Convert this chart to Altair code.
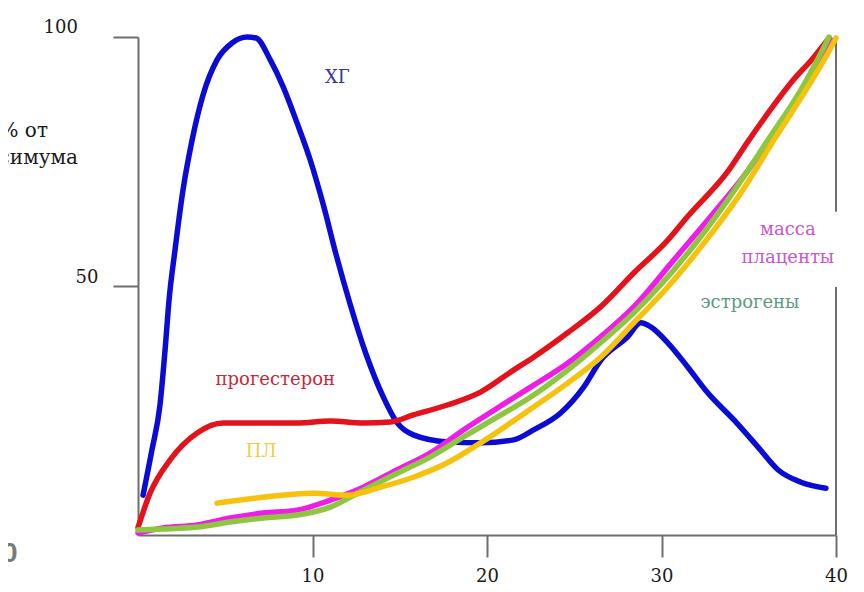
import altair as alt
import pandas as pd

# ---- axes ----
x_ticks = [10, 20, 30, 40]
y_ticks = [50, 100]

# ---- series (week of pregnancy, % of maximum) ----
hg_x = [0.29, 0.80, 1.26, 1.55, 1.78, 2.12, 2.58, 3.10, 3.73, 4.53, 5.39, 6.26, 6.77,
        7.58, 8.32, 9.12, 9.87, 10.62, 11.36, 12.17, 13.03, 14.06, 14.86, 15.78, 17.73,
        19.63, 21.52, 22.67, 24.22, 25.54, 26.52, 28.06, 28.81, 29.38, 30.36, 31.51,
        32.66, 34.15, 35.52, 36.67, 37.99, 39.42]
hg_y = [8.0, 17.1, 26.1, 37.1, 47.2, 57.2, 69.3, 79.3, 88.4, 95.4, 98.8, 100.0, 99.8,
        95.4, 90.0, 82.7, 75.3, 66.3, 56.2, 46.2, 36.7, 27.7, 22.5, 20.1, 18.7,
        18.5, 19.1, 21.1, 24.5, 29.7, 35.1, 39.8, 42.6, 41.8, 38.6, 33.7,
        28.5, 23.1, 17.7, 13.1, 10.6, 9.4]

prog_x = [0, 0.69, 1.84, 3.39, 4.88, 7.17, 9.12, 11.02, 12.91, 14.46, 15.78, 17.73, 19.63,
          21.52, 22.67, 24.62, 26.51, 28.41, 30.36, 31.51, 33.80, 34.95, 36.10, 37.42, 38.74, 39.60]
prog_y = [1.5, 8.4, 15.1, 20.5, 22.5, 22.5, 22.5, 22.9, 22.5, 22.7, 24.1, 26.1, 28.7,
          33.1, 35.7, 40.6, 45.8, 52.6, 59.2, 64.0, 73.0, 79.0, 84.7, 90.8, 96.0, 99.8]

mass_x = [0, 1.43, 3.39, 5.28, 7.17, 9.12, 11.02, 12.91, 14.86, 16.76, 18.65, 20.60, 22.50,
          24.62, 26.51, 28.41, 30.70, 33.00, 34.55, 36.44, 37.99, 39.14, 39.71]
mass_y = [0.4, 1.4, 2.0, 3.4, 4.4, 5.0, 7.0, 9.6, 13.1, 16.5, 21.1, 25.5, 29.7,
          34.5, 39.8, 45.8, 55.2, 64.7, 71.3, 80.7, 88.8, 96.0, 99.4]

estr_x = [0, 1.43, 3.39, 5.28, 7.17, 9.12, 11.02, 12.91, 14.86, 16.76, 18.65, 20.60, 22.50,
          24.62, 26.51, 28.41, 31.51, 33.80, 36.10, 37.99, 39.14, 39.60]
estr_y = [1.0, 1.2, 1.6, 2.6, 3.4, 4.0, 5.6, 9.0, 12.4, 15.7, 19.7, 23.7, 27.7,
          33.1, 38.6, 44.6, 56.6, 67.3, 79.3, 89.4, 96.8, 100.0]

pl_x = [4.53, 7.17, 10.04, 12.0, 13.89, 15.78, 17.73, 19.63, 22.67, 24.62, 26.51, 28.41,
        30.36, 32.25, 34.55, 36.44, 38.39, 39.54, 40.0]
pl_y = [6.4, 7.6, 8.4, 8.0, 9.6, 11.6, 14.5, 18.5, 25.7, 30.5, 35.7, 42.6,
        49.8, 57.8, 68.7, 79.3, 90.0, 96.8, 99.8]

series_names = ["ХГ", "прогестерон", "масса плаценты", "эстрогены", "ПЛ"]
series_x = [hg_x, prog_x, mass_x, estr_x, pl_x]
series_y = [hg_y, prog_y, mass_y, estr_y, pl_y]
series_colors = ["#0b0bd6", "#e3121b", "#ee1ee8", "#8dc63f", "#f7c20e"]

# ---- annotations ----
label_text = ["ХГ", "прогестерон", "ПЛ", "масса", "плаценты", "эстрогены"]
label_x = [11.42, 7.87, 7.06, 37.24, 37.24, 35.07]
label_y = [91.8, 31.1, 16.7, 61.2, 55.6, 46.6]
label_color = ["#3636a6", "#c9283c", "#e9cf45", "#cc55cc", "#cc55cc", "#5f9982"]

# y-axis title (cut off at the left edge in the source)
ytitle_text = ["% от", "максимума"]
ytitle_x = [-5.16, -3.44]
ytitle_y = [81.1, 75.7]

# top tick label of the y axis (set further left than "50" in the source)
toplabel_text = ["100"]
toplabel_x = [-3.44]
toplabel_y = [101.8]

# fragment of a neighbouring element at the bottom-left corner
frag_text = ["0"]
frag_x = [-6.9]
frag_y = [-3.8]

# right border of the plot (interrupted by the labels)
frame_y = [0, 64.9]
frame_y2 = [49.8, 100]
frame_x = [40, 40]

X = alt.Scale(domain=[0, 40], nice=False, zero=False)
Y = alt.Scale(domain=[0, 100], nice=False, zero=False)
GRAY = "#6e6e6e"
SERIF = "DejaVu Serif"

x_axis = alt.Axis(values=x_ticks, tickSize=22, tickWidth=2, tickColor=GRAY,
                  domainColor=GRAY, domainWidth=2, labelFont=SERIF, labelFontSize=18,
                  labelColor="#1a1a1a", labelPadding=10, grid=False, title=None,
                  labelFlush=False, labelOverlap=False)
y_axis = alt.Axis(values=y_ticks, tickSize=25, tickWidth=2, tickColor=GRAY,
                  domainColor=GRAY, domainWidth=2, labelFont=SERIF, labelFontSize=18,
                  labelColor="#1a1a1a", labelPadding=15, labelOffset=-9, grid=False,
                  title=None, labelFlush=False, labelOverlap=False,
                  labelExpr="datum.value == 100 ? '' : datum.label")

layers = []

frame_df = pd.DataFrame({"x": frame_x, "y": frame_y, "y2": frame_y2})
frame = alt.Chart(frame_df).mark_rule(color=GRAY, strokeWidth=2).encode(
    x=alt.X("x:Q", scale=X, axis=x_axis),
    y=alt.Y("y:Q", scale=Y, axis=y_axis),
    y2="y2:Q",
)
layers.append(frame)

for name, xs, ys, col in zip(series_names, series_x, series_y, series_colors):
    df = pd.DataFrame({"x": xs, "y": ys, "i": list(range(len(xs)))})
    layers.append(
        alt.Chart(df).mark_line(color=col, strokeWidth=5.5, interpolate="monotone",
                                strokeCap="round", strokeJoin="round").encode(
            x=alt.X("x:Q", scale=X),
            y=alt.Y("y:Q", scale=Y),
            order="i:Q",
        )
    )

lab_df = pd.DataFrame({"t": label_text, "x": label_x, "y": label_y, "c": label_color})
layers.append(
    alt.Chart(lab_df).mark_text(font=SERIF, fontSize=18, align="center", baseline="middle").encode(
        x=alt.X("x:Q", scale=X),
        y=alt.Y("y:Q", scale=Y),
        text="t:N",
        color=alt.Color("c:N", scale=None),
    )
)

yt_df = pd.DataFrame({"t": ytitle_text, "x": ytitle_x, "y": ytitle_y})
layers.append(
    alt.Chart(yt_df).mark_text(font=SERIF, fontSize=20, align="right", baseline="middle",
                               color="#1a1a1a").encode(
        x=alt.X("x:Q", scale=X),
        y=alt.Y("y:Q", scale=Y),
        text="t:N",
    )
)

tl_df = pd.DataFrame({"t": toplabel_text, "x": toplabel_x, "y": toplabel_y})
layers.append(
    alt.Chart(tl_df).mark_text(font=SERIF, fontSize=18, align="right", baseline="middle",
                               color="#1a1a1a").encode(
        x=alt.X("x:Q", scale=X),
        y=alt.Y("y:Q", scale=Y),
        text="t:N",
    )
)

fr_df = pd.DataFrame({"t": frag_text, "x": frag_x, "y": frag_y})
layers.append(
    alt.Chart(fr_df).mark_text(font="Liberation Sans", fontSize=28,
                               fontWeight="bold", align="right", baseline="middle",
                               color="#7a7a7a").encode(
        x=alt.X("x:Q", scale=X),
        y=alt.Y("y:Q", scale=Y),
        text="t:N",
    )
)

chart = alt.layer(*layers).properties(
    width=698,
    height=498,
    padding={"left": 130, "top": 29, "right": 18, "bottom": 56},
    autosize=alt.AutoSizeParams(type="none"),
    background="white",
).configure_view(strokeWidth=0)

chart.save("out.html", embed_options={"renderer": "svg", "actions": False})
